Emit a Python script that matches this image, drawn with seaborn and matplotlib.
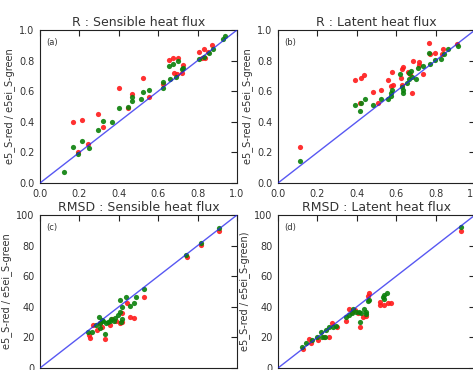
import matplotlib
matplotlib.use("Agg")
import matplotlib.pyplot as plt
import seaborn as sns
import pandas as pd

# ---------------- data ----------------
titles = ["R : Sensible heat flux", "R : Latent heat flux",
          "RMSD : Sensible heat flux", "RMSD : Latent heat flux"]
panel_labels = ["(a)", "(b)", "(c)", "(d)"]
ylabels = ["e5_S-red / e5ei_S-green", "e5_S-red / e5ei_S-green",
           "e5_S-red / e5ei_S-green", "e5_S-red / e5ei_S-green)"]
r_ticks = [0.0, 0.2, 0.4, 0.6, 0.8, 1.0]
r_ticklabels = ["0.0", "0.2", "0.4", "0.6", "0.8", "1.0"]
rmsd_ticks = [0, 20, 40, 60, 80, 100]
rmsd_ticklabels = ["0", "20", "40", "60", "80", "100"]

a_red_x = [0.166, 0.212, 0.292, 0.319, 0.246, 0.192, 0.402, 0.522, 0.466, 0.554, 0.449, 0.624,
           0.656, 0.675, 0.698, 0.678, 0.695, 0.72, 0.725, 0.808, 0.831, 0.851, 0.873, 0.839, 0.822]
a_red_y = [0.397, 0.415, 0.448, 0.365, 0.258, 0.20, 0.622, 0.688, 0.579, 0.563, 0.49, 0.644,
           0.803, 0.814, 0.817, 0.716, 0.71, 0.716, 0.77, 0.856, 0.873, 0.856, 0.90, 0.819, 0.819]
a_green_x = [0.124, 0.169, 0.212, 0.249, 0.192, 0.292, 0.319, 0.364, 0.402, 0.449, 0.466, 0.466,
             0.522, 0.512, 0.554, 0.624, 0.624, 0.656, 0.675, 0.698, 0.658, 0.692, 0.72, 0.725,
             0.808, 0.834, 0.856, 0.876, 0.929, 0.937]
a_green_y = [0.07, 0.234, 0.273, 0.229, 0.192, 0.349, 0.404, 0.397, 0.487, 0.496, 0.535, 0.563,
             0.596, 0.546, 0.607, 0.622, 0.659, 0.764, 0.78, 0.795, 0.681, 0.694, 0.742, 0.753,
             0.812, 0.823, 0.85, 0.878, 0.943, 0.96]

b_red_x = [0.111, 0.393, 0.419, 0.439, 0.415, 0.484, 0.521, 0.556, 0.573, 0.578, 0.586, 0.508,
           0.624, 0.629, 0.636, 0.627, 0.684, 0.658, 0.672, 0.679, 0.715, 0.718, 0.738, 0.769,
           0.774, 0.795, 0.838, 0.832, 0.911]
b_red_y = [0.234, 0.672, 0.688, 0.703, 0.524, 0.598, 0.611, 0.67, 0.633, 0.725, 0.638, 0.524,
           0.688, 0.742, 0.76, 0.64, 0.797, 0.725, 0.714, 0.59, 0.79, 0.77, 0.71, 0.913,
           0.845, 0.852, 0.873, 0.845, 0.91]
b_green_x = [0.111, 0.393, 0.415, 0.422, 0.44, 0.484, 0.521, 0.559, 0.573, 0.581, 0.576, 0.62,
             0.627, 0.632, 0.632, 0.667, 0.667, 0.679, 0.675, 0.701, 0.709, 0.735, 0.769, 0.774,
             0.795, 0.826, 0.843, 0.863, 0.915, 0.655]
b_green_y = [0.142, 0.509, 0.469, 0.524, 0.546, 0.509, 0.546, 0.55, 0.59, 0.607, 0.568, 0.714,
             0.629, 0.607, 0.59, 0.72, 0.677, 0.694, 0.731, 0.683, 0.753, 0.764, 0.852, 0.777,
             0.801, 0.812, 0.84, 0.873, 0.895, 0.655]

c_red_x = [24.9, 25.4, 27.1, 28.8, 31.3, 33.0, 35.5, 36.4, 40.6, 41.5, 44.0, 45.7, 47.9, 53.0,
           74.5, 81.5, 91.0, 30.5, 38.5, 41.5]
c_red_y = [21.6, 19.4, 28.1, 24.8, 27.0, 18.7, 28.1, 31.8, 29.2, 36.1, 42.3, 33.5, 32.5, 46.6,
           72.4, 80.5, 89.3, 29.5, 31.0, 30.0]
c_green_x = [24.2, 26.2, 28.3, 29.9, 30.5, 30.5, 32.1, 33.3, 33.0, 34.7, 36.0, 39.8, 40.6, 41.0,
             41.5, 41.5, 40.6, 43.7, 45.7, 47.9, 48.6, 53.0, 74.1, 81.6, 91.0, 31.5, 35.5, 37.5, 38.0]
c_green_y = [23.7, 23.7, 28.1, 33.1, 29.2, 25.9, 30.9, 29.6, 22.2, 30.3, 31.8, 34.6, 36.8, 30.3,
             31.8, 40.1, 44.4, 46.6, 40.5, 42.3, 46.6, 51.4, 73.9, 81.5, 91.5, 31.5, 30.5, 31.0, 32.5]

d_red_x = [12.9, 15.6, 16.8, 20.2, 23.5, 25.7, 27.4, 29.8, 34.5, 36.2, 37.6, 40.5, 41.6, 43.0,
           44.7, 45.5, 46.3, 51.9, 51.9, 54.0, 55.7, 57.4, 92.7, 39.0]
d_red_y = [12.2, 18.8, 16.1, 18.3, 20.0, 20.0, 29.2, 27.0, 30.9, 38.3, 36.8, 35.7, 27.0, 33.1,
           34.0, 47.1, 48.8, 43.3, 41.2, 41.2, 42.3, 42.7, 89.7, 38.0]
d_green_x = [12.2, 14.2, 17.3, 19.6, 22.3, 24.0, 21.8, 24.4, 26.0, 27.8, 29.4, 34.5, 35.9, 37.6,
             39.6, 41.0, 42.1, 44.7, 44.7, 41.6, 43.8, 38.2, 53.1, 53.6, 54.0, 55.3, 92.7, 45.5, 46.0]
d_green_y = [13.9, 16.1, 18.3, 20.0, 20.5, 20.0, 23.7, 24.8, 27.0, 27.0, 27.5, 33.1, 34.6, 35.7,
             36.4, 36.8, 35.7, 36.8, 35.3, 30.3, 38.3, 38.3, 46.2, 44.9, 47.7, 48.8, 92.4, 43.5, 44.5]

# ---------------- style ----------------
sns.set_theme(style="white")
TEXT = "#333333"
plt.rcParams.update({
    "font.family": ["DejaVu Sans"],
    "xtick.direction": "in", "ytick.direction": "in",
    "xtick.top": True, "ytick.right": True,
    "xtick.major.size": 4, "ytick.major.size": 4,
    "xtick.major.width": 0.8, "ytick.major.width": 0.8,
    "xtick.major.pad": 4, "ytick.major.pad": 4,
    "xtick.color": "#222222", "ytick.color": "#222222",
    "xtick.labelcolor": TEXT, "ytick.labelcolor": TEXT,
    "axes.edgecolor": "#222222", "axes.linewidth": 0.8,
    "text.color": TEXT, "axes.labelcolor": TEXT,
})

W, H = 473, 370
fig = plt.figure(figsize=(W / 100, H / 100), dpi=100)
aw, ah = 197, 153
positions = [(40, 30), (278, 30), (40, 215), (278, 215)]  # left, top in px

panels = [
    (a_red_x, a_red_y, a_green_x, a_green_y, 1.0, r_ticks, r_ticklabels),
    (b_red_x, b_red_y, b_green_x, b_green_y, 1.0, r_ticks, r_ticklabels),
    (c_red_x, c_red_y, c_green_x, c_green_y, 100, rmsd_ticks, rmsd_ticklabels),
    (d_red_x, d_red_y, d_green_x, d_green_y, 100, rmsd_ticks, rmsd_ticklabels),
]

for i, (rx, ry, gx, gy, lim, ticks, tlabels) in enumerate(panels):
    left, top = positions[i]
    ax = fig.add_axes([left / W, (H - top - ah) / H, aw / W, ah / H])
    red_df = pd.DataFrame({"x": rx, "y": ry})
    green_df = pd.DataFrame({"x": gx, "y": gy})
    sns.scatterplot(data=red_df, x="x", y="y", color="#ff1a1a", s=14, linewidth=0,
                    alpha=0.9, ax=ax, zorder=2)
    sns.scatterplot(data=green_df, x="x", y="y", color="#0a800a", s=14, linewidth=0,
                    alpha=0.9, ax=ax, zorder=3)
    diag = pd.DataFrame({"x": [0, lim], "y": [0, lim]})
    sns.lineplot(data=diag, x="x", y="y", color="#2020ee", alpha=0.75, linewidth=1.0,
                 ax=ax, zorder=4)
    ax.set_xlim(0, lim)
    ax.set_ylim(0, lim)
    ax.set_xticks(ticks)
    ax.set_xticklabels(tlabels, fontsize=7)
    ax.set_yticks(ticks)
    ax.set_yticklabels(tlabels, fontsize=7)
    ax.set_xlabel("")
    ax.set_ylabel(ylabels[i], fontsize=7, labelpad=3)
    ax.set_title(titles[i], fontsize=9, pad=3, color=TEXT)
    ax.text(0.03, 0.92, panel_labels[i], transform=ax.transAxes, fontsize=6,
            ha="left", va="center", color=TEXT)

fig.savefig("out.png", dpi=100)
